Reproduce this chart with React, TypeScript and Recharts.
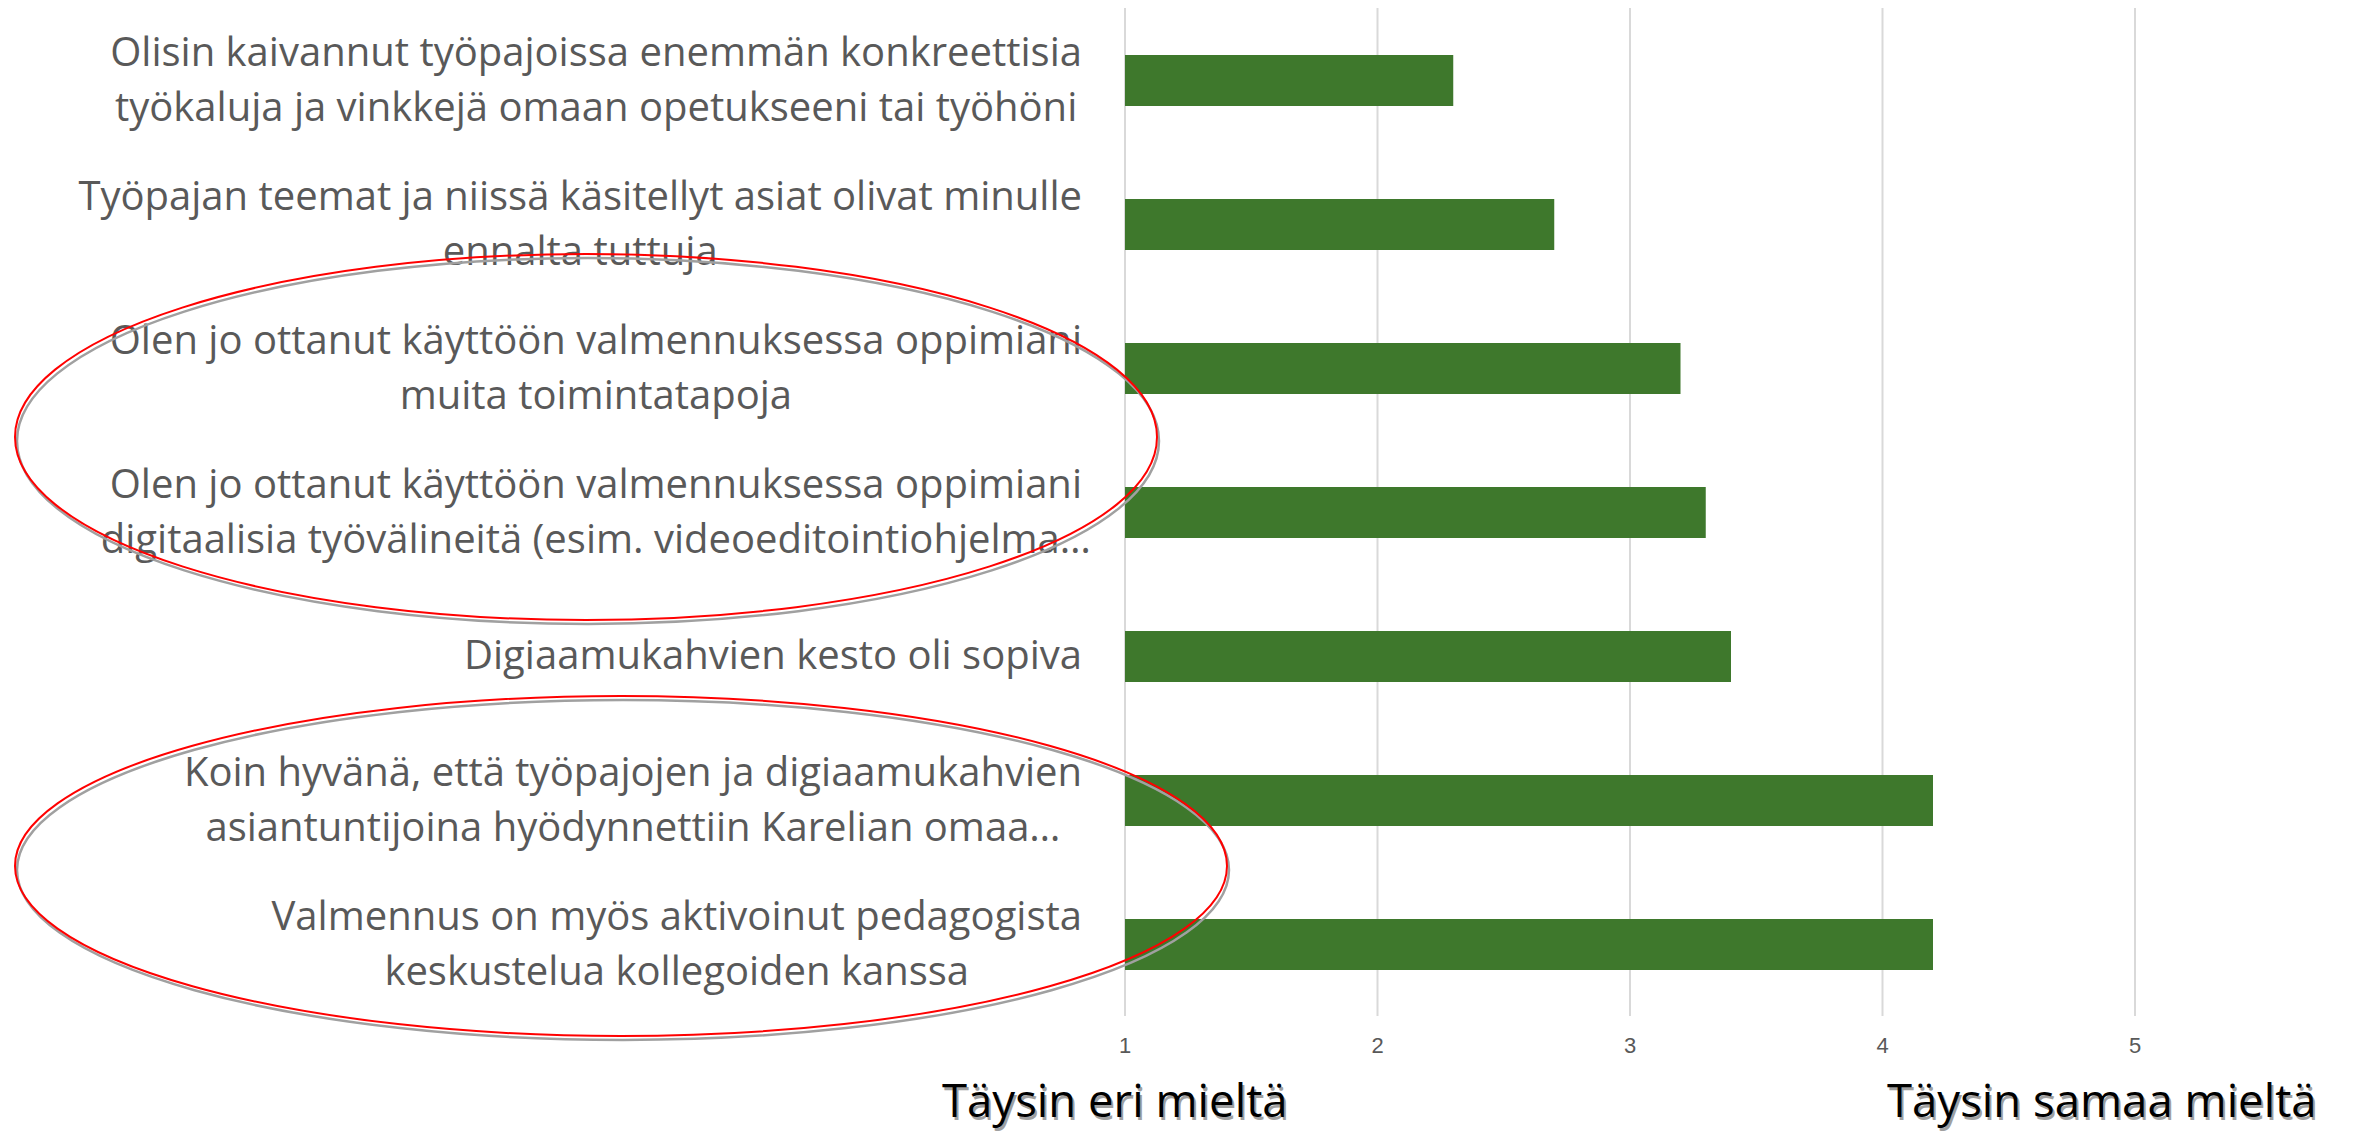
import React from 'react';
import { BarChart, Bar, XAxis, YAxis, CartesianGrid } from 'recharts';

const categories: string[] = [
  'Olisin kaivannut työpajoissa enemmän konkreettisia\ntyökaluja ja vinkkejä omaan opetukseeni tai työhöni',
  'Työpajan teemat ja niissä käsitellyt asiat olivat minulle\nennalta tuttuja',
  'Olen jo ottanut käyttöön valmennuksessa oppimiani\nmuita toimintatapoja',
  'Olen jo ottanut käyttöön valmennuksessa oppimiani\ndigitaalisia työvälineitä (esim. videoeditointiohjelma…',
  'Digiaamukahvien kesto oli sopiva',
  'Koin hyvänä, että työpajojen ja digiaamukahvien\nasiantuntijoina hyödynnettiin Karelian omaa…',
  'Valmennus on myös aktivoinut pedagogista\nkeskustelua kollegoiden kanssa',
];
const values: number[] = [2.3, 2.7, 3.2, 3.3, 3.4, 4.2, 4.2];
const xTicks: number[] = [1, 2, 3, 4, 5];
const scaleLeftLabel = 'Täysin eri mieltä';
const scaleRightLabel = 'Täysin samaa mieltä';

const data = categories.map((c, i) => ({ label: c, value: values[i] }));

const W = 2356;
const H = 1134;
const LABEL_FONT_FAMILY = '"Open Sans", sans-serif';
const LABEL_FONT_SIZE = 40;
const LINE_H = 55.6;

let canvasRef: HTMLCanvasElement | null = null;
function measure(text: string, font: string): number {
  if (!canvasRef) canvasRef = document.createElement('canvas');
  const ctx = canvasRef.getContext('2d');
  if (!ctx) return text.length * 20;
  ctx.font = font;
  return ctx.measureText(text).width;
}

const YTick = (props: any) => {
  const { x, y, payload } = props;
  const lines: string[] = String(payload.value).split('\n');
  const w = measure(lines[0], `${LABEL_FONT_SIZE}px "Open Sans"`);
  const cx = x - w / 2;
  const startY = y - ((lines.length - 1) * LINE_H) / 2 - 1;
  return (
    <text
      textAnchor="middle"
      fill="#595959"
      fontFamily={LABEL_FONT_FAMILY}
      fontSize={LABEL_FONT_SIZE}
    >
      {lines.map((l, i) => (
        <tspan key={i} x={cx} y={startY + i * LINE_H} dy="0.36em">
          {l}
        </tspan>
      ))}
    </text>
  );
};

const XTick = (props: any) => {
  const { x, y, payload } = props;
  return (
    <text
      x={x}
      y={y}
      dy="0.71em"
      textAnchor="middle"
      fill="#595959"
      fontFamily='"Liberation Sans", Arial, sans-serif'
      fontSize={22}
    >
      {payload.value}
    </text>
  );
};

const ShadowText = ({ x, y, text }: { x: number; y: number; text: string }) => (
  <g fontFamily='"Open Sans", sans-serif' fontSize={45.5}>
    <text x={x + 2} y={y + 3} fill="#a0a0a0">
      {text}
    </text>
    <text x={x} y={y} fill="#000000">
      {text}
    </text>
  </g>
);

const ShadowEllipse = ({ cx, cy, rx, ry }: { cx: number; cy: number; rx: number; ry: number }) => (
  <g fill="none">
    <ellipse cx={cx + 2} cy={cy + 4} rx={rx} ry={ry} stroke="#a0a0a0" strokeWidth={2.5} />
    <ellipse cx={cx} cy={cy} rx={rx} ry={ry} stroke="#ff0000" strokeWidth={2} />
  </g>
);

export default function App() {
  return (
    <div style={{ position: 'absolute', left: 0, top: 0, width: W, height: H, background: '#ffffff' }}>
      <BarChart
        width={W}
        height={H}
        data={data}
        layout="vertical"
        margin={{ top: 8, right: 221, bottom: 0, left: 0 }}
        barSize={51}
      >
        <CartesianGrid horizontal={false} vertical={true} stroke="#d9d9d9" strokeWidth={2} />
        <XAxis
          type="number"
          domain={[1, 5]}
          ticks={xTicks}
          axisLine={false}
          tickLine={false}
          height={118}
          tickMargin={15}
          tick={<XTick />}
        />
        <YAxis
          type="category"
          dataKey="label"
          width={1125}
          axisLine={false}
          tickLine={false}
          tickMargin={37}
          interval={0}
          tick={<YTick />}
        />
        <Bar dataKey="value" fill="#3e782c" isAnimationActive={false} />
      </BarChart>
      <svg
        width={W}
        height={H}
        style={{ position: 'absolute', left: 0, top: 0, pointerEvents: 'none' }}
      >
        <ShadowEllipse cx={586} cy={437} rx={571} ry={183} />
        <ShadowEllipse cx={621} cy={866} rx={606} ry={170} />
        <ShadowText x={942} y={1117} text={scaleLeftLabel} />
        <ShadowText x={1887} y={1117} text={scaleRightLabel} />
      </svg>
    </div>
  );
}
